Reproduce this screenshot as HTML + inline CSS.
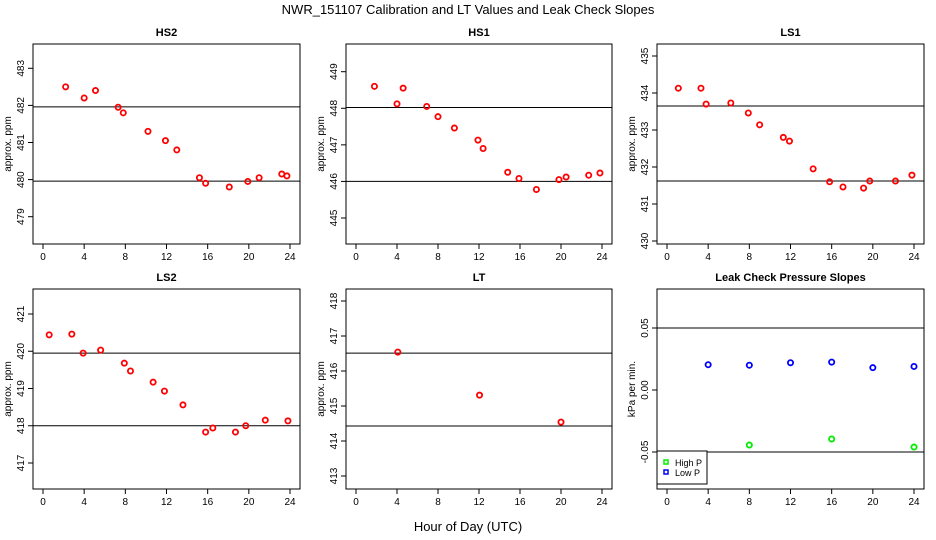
<!DOCTYPE html>
<html><head><meta charset="utf-8">
<style>
body{margin:0;background:#fff;width:936px;height:540px;overflow:hidden}
svg{display:block;font-family:"Liberation Sans",Arial,sans-serif}
</style></head>
<body>
<svg id="c" width="936" height="540" xmlns="http://www.w3.org/2000/svg">
<text x="468" y="14" text-anchor="middle" font-size="13">NWR_151107  Calibration and LT Values and Leak Check Slopes</text>
<text x="468" y="531" text-anchor="middle" font-size="13">Hour of Day (UTC)</text>
</svg>
<script>
// ---- data ----
const xTicks = [0,4,8,12,16,20,24];
const hs2Hours = [2.2,4,5.1,7.3,7.8,10.2,11.9,13,15.2,15.8,18.1,19.9,21,23.2,23.7];
const hs2Values = [482.5,482.2,482.4,481.95,481.8,481.3,481.05,480.8,480.05,479.9,479.8,479.95,480.05,480.15,480.1];
const hs2Lines = [481.96,479.96];
const hs2Ticks = [479,480,481,482,483];
const hs1Hours = [1.8,4,4.6,6.9,8,9.6,11.9,12.4,14.8,15.9,17.6,19.8,20.5,22.7,23.8];
const hs1Values = [448.6,448.12,448.55,448.05,447.77,447.46,447.13,446.9,446.25,446.08,445.78,446.05,446.12,446.17,446.23];
const hs1Lines = [448.02,446.0];
const hs1Ticks = [445,446,447,448,449];
const ls1Hours = [1.1,3.3,3.8,6.2,7.9,9.0,11.3,11.9,14.2,15.8,17.1,19.1,19.7,22.2,23.8];
const ls1Values = [434.13,434.13,433.7,433.73,433.46,433.14,432.8,432.7,431.95,431.6,431.46,431.43,431.62,431.62,431.78];
const ls1Lines = [433.65,431.62];
const ls1Ticks = [430,431,432,433,434,435];
const ls2Hours = [0.6,2.8,3.9,5.6,7.9,8.5,10.7,11.8,13.6,15.8,16.5,18.7,19.7,21.6,23.8];
const ls2Values = [420.44,420.46,419.95,420.03,419.68,419.47,419.17,418.93,418.56,417.83,417.94,417.83,418.0,418.15,418.13];
const ls2Lines = [419.95,418.0];
const ls2Ticks = [417,418,419,420,421];
const ltHours = [4.08,12.05,20.0];
const ltValues = [416.54,415.31,414.54];
const ltLines = [416.51,414.43];
const ltTicks = [413,414,415,416,417,418];
const leakHours = [4,8,12,16,20,24];
const lowPValues = [0.0204,0.020,0.022,0.0225,0.018,0.019];
const highHours = [8,16,24];
const highPValues = [-0.0444,-0.0395,-0.046];
const leakLines = [0.05,-0.05];
const leakTicks = [-0.05,0.00,0.05];
const leakTickLabels = ["-0.05","0.00","0.05"];

// ---- drawing ----
const svg = document.getElementById('c');
const NS = 'http://www.w3.org/2000/svg';
function mk(tag, attrs, parent){const e=document.createElementNS(NS,tag);for(const k in attrs)e.setAttribute(k,attrs[k]);(parent||svg).appendChild(e);return e;}

function panel(p){
  const g = mk('g',{});
  
  
  const x0=p.left+10, x1=p.right-10;
  const xs = h => x0 + h*(x1-x0)/24;
  const ys = v => p.yA + (v-p.vA)*(p.yB-p.yA)/(p.vB-p.vA);
  const box = mk('rect',{x:p.left,y:p.top,width:p.right-p.left,height:p.bottom-p.top,fill:'none',stroke:'#000','stroke-width':1},g);
  
  
  const t = mk('text',{x:(p.left+p.right)/2,y:p.top-8,'text-anchor':'middle','font-size':11,'font-weight':'bold'},g);
  t.textContent = p.title;
  
  
  xTicks.forEach(h=>{
    const x=xs(h);
    mk('line',{x1:x,x2:x,y1:p.bottom,y2:p.bottom+5,stroke:'#000'},g);
    const tx=mk('text',{x:x,y:p.bottom+16,'text-anchor':'middle','font-size':10},g);
    tx.textContent=h;
    
    
  });
  p.ticks.forEach((v,i)=>{
    const y=ys(v);
    mk('line',{x1:p.left-5,x2:p.left,y1:y,y2:y,stroke:'#000'},g);
    const tx=mk('text',{x:0,y:0,'text-anchor':'middle','font-size':10,transform:`translate(${p.left-9},${y}) rotate(-90)`},g);
    tx.textContent = p.tickLabels ? p.tickLabels[i] : v;
    
    
  });
  const yl=mk('text',{x:0,y:0,'text-anchor':'middle','font-size':10,transform:`translate(${p.left-22},${(p.top+p.bottom)/2}) rotate(-90)`},g);
  yl.textContent = p.ylabel;
  
  
  p.lines.forEach(v=>{
    const l=mk('line',{x1:p.left,x2:p.right,y1:ys(v),y2:ys(v),stroke:'#000','stroke-width':1},g);
    
    
  });
  p.series.forEach(s=>{
    s.x.forEach((h,i)=>{
      const c=mk('circle',{cx:xs(h),cy:ys(s.y[i]),r:2.6,fill:'none',stroke:s.color,'stroke-width':1.8},g);
      
      
    });
  });
  return g;
}

const ppm='approx. ppm';
panel({name:'panel-hs2',title:'HS2',left:33,right:300,top:44,bottom:244,yA:68.3,vA:483,yB:216.7,vB:479,ticks:hs2Ticks,lines:hs2Lines,ylabel:ppm,series:[{x:hs2Hours,y:hs2Values,color:'#f00',name:'hs2-point'}]});
panel({name:'panel-hs1',title:'HS1',left:346,right:612,top:44,bottom:244,yA:71.7,vA:449,yB:218,vB:445,ticks:hs1Ticks,lines:hs1Lines,ylabel:ppm,series:[{x:hs1Hours,y:hs1Values,color:'#f00',name:'hs1-point'}]});
panel({name:'panel-ls1',title:'LS1',left:657,right:924,top:44,bottom:244,yA:56,vA:435,yB:241,vB:430,ticks:ls1Ticks,lines:ls1Lines,ylabel:ppm,series:[{x:ls1Hours,y:ls1Values,color:'#f00',name:'ls1-point'}]});
panel({name:'panel-ls2',title:'LS2',left:33,right:300,top:289,bottom:489,yA:314,vA:421,yB:463,vB:417,ticks:ls2Ticks,lines:ls2Lines,ylabel:ppm,series:[{x:ls2Hours,y:ls2Values,color:'#f00',name:'ls2-point'}]});
panel({name:'panel-lt',title:'LT',left:346,right:612,top:289,bottom:489,yA:301,vA:418,yB:476,vB:413,ticks:ltTicks,lines:ltLines,ylabel:ppm,series:[{x:ltHours,y:ltValues,color:'#f00',name:'lt-point'}]});
const leak = panel({name:'panel-leak-check',title:'Leak Check Pressure Slopes',left:657,right:924,top:289,bottom:489,yA:328,vA:0.05,yB:452,vB:-0.05,ticks:leakTicks,tickLabels:leakTickLabels,lines:leakLines,ylabel:'kPa per min.',series:[{x:leakHours,y:lowPValues,color:'#00f',name:'low-p-point'},{x:highHours,y:highPValues,color:'#0e0',name:'high-p-point'}]});
const lg = mk('g',{},leak);


mk('rect',{x:657,y:451,width:50,height:33,fill:'#fff',stroke:'#000'},lg);
mk('rect',{x:664,y:460,width:4,height:4,fill:'none',stroke:'#0e0','stroke-width':1.5},lg);
mk('rect',{x:664,y:470,width:4,height:4,fill:'none',stroke:'#00f','stroke-width':1.5},lg);
const t1=mk('text',{x:675,y:466,'font-size':9},lg);t1.textContent='High P';


const t2=mk('text',{x:675,y:476,'font-size':9},lg);t2.textContent='Low P';


</script>
</body></html>
